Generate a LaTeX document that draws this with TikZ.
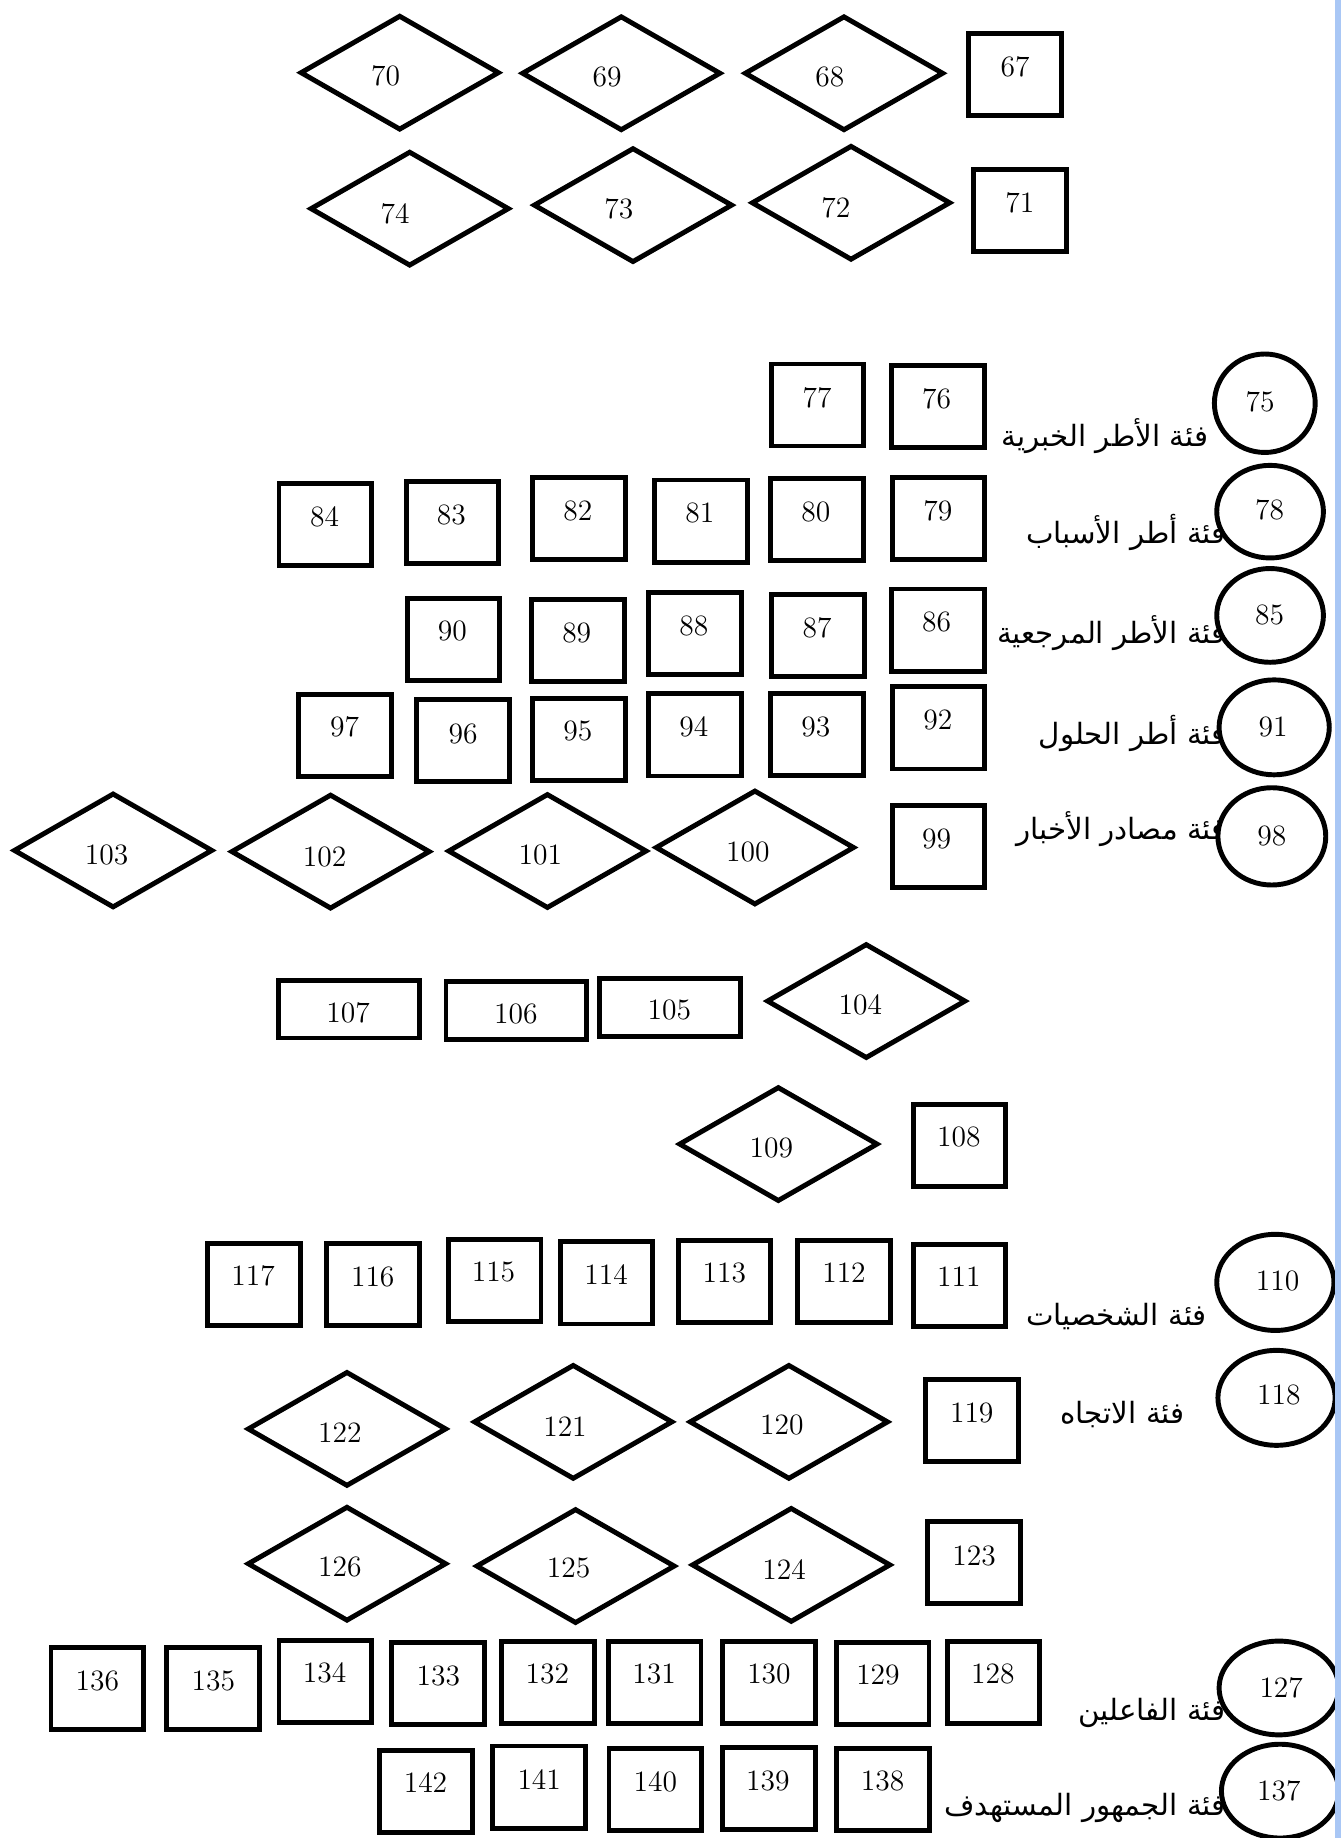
\documentclass[tikz,border=0pt]{standalone}
\usepackage{fontspec}
\newfontfamily\arabicfont[Script=Arabic]{DejaVu Sans}
\TeXXeTstate=1
\usetikzlibrary{shapes.geometric}
\definecolor{bandblue}{RGB}{169,199,245}
\tikzset{
  shp/.style={draw=black, line width=2.1pt, inner sep=0pt},
  rbox/.style={shp, rectangle, minimum width=39.5pt, minimum height=35pt},
  wbox/.style={shp, rectangle, minimum width=60pt, minimum height=24.5pt},
  dia/.style={shp, diamond, minimum width=85pt, minimum height=49pt},
  ell/.style={shp, ellipse, fill=white},
  num/.style={inner sep=0pt, font=\fontsize{12.6}{13}\selectfont},
  artxt/.style={inner sep=0pt, anchor=base east, font=\arabicfont\fontsize{12.5}{14}\selectfont},
}
\begin{document}
\begin{tikzpicture}[x=0.5pt, y=-0.5pt]
\useasboundingbox (0,0) rectangle (1144,1568);
% rectangles
\foreach \n/\cx/\cy/\lx/\ly in {
 67/866/63.5/866/57, 71/870/179.5/870/173,
 77/697.5/345.5/697/339, 76/800/346.5/799/340,
 79/800.5/442.5/800/436, 80/697/443.5/696/437, 81/598/444.5/597/438,
 82/494/442.5/493/436, 83/386/445.5/385/439, 84/277.5/447.5/277/441,
 86/800/537.5/799/531, 87/698/542.5/697/536, 88/593/540.5/592/534,
 89/493/546.5/492/540, 90/387/545.5/386/538,
 92/800.5/621/800/614, 93/697/626.5/696/620, 94/593/627/592/620,
 95/494/630.5/493/624, 96/395/631.5/395/626, 97/294.5/627.5/294/620,
 99/800.5/722.5/799/716,
 108/818.5/977/818/970,
 111/818.5/1096.5/818/1089, 112/720/1093/720/1086, 113/618/1093.5/618/1086,
 114/517.5/1094.5/517/1087, 115/422/1092.5/421/1085, 116/318/1095.5/318/1089,
 117/216.5/1095.5/216/1088,
 119/829/1211.5/829/1205, 123/831/1333/831/1327,
 128/847.5/1435.5/847/1428, 129/753/1436.5/749/1429, 130/656/1435.5/656/1428,
 131/558.5/1435.5/558/1428, 132/467.5/1435.5/467/1428, 133/373.5/1436.5/374/1430,
 134/277.5/1434.5/277/1427, 135/181.5/1440.5/182/1434, 136/83/1440.5/83/1434,
 138/753.5/1526.5/753/1519, 139/656/1525.5/655/1519, 140/559/1526.5/559/1520,
 141/460/1524.5/460/1518, 142/363.5/1528.5/363/1521}
{
  \node[rbox] (r\n) at (\cx,\cy) {};
  \node[num] (l\n) at (\lx,\ly) {\n};
}
% wide rectangles
\foreach \n/\cx/\cy/\lx/\ly in {105/571.5/859.5/571/862, 106/440.5/862/440/865, 107/297.5/861/297/864}
{
  \node[wbox] (r\n) at (\cx,\cy) {};
  \node[num] (l\n) at (\lx,\ly) {\n};
}
% diamonds
\foreach \n/\cx/\cy/\lx/\ly in {
 70/341/62/329/65, 69/530/62.5/518/66, 68/720/62.5/708/66,
 74/349.5/178/337/182, 73/540/175/528/178, 72/726/173/713/177,
 100/644/723/638/727, 101/467/726/461/729, 102/282/726.5/277/731, 103/96.5/725.5/91/729,
 104/739/854/734/857, 109/664/976/658/979,
 120/673/1213/667/1216, 121/489/1213/482/1217, 122/296/1219/290/1222,
 124/675/1335/669/1339, 125/491/1336/485/1338, 126/296/1334/290/1337}
{
  \node[dia] (d\n) at (\cx,\cy) {};
  \node[num] (l\n) at (\lx,\ly) {\n};
}
% Arabic category labels
\node[artxt] (t75) at (1031,381) {\beginR فئة الأطر الخبرية\endR};
\node[artxt] (t78) at (1046,464) {\beginR فئة أطر الأسباب\endR};
\node[artxt] (t85) at (1046,549) {\beginR فئة الأطر المرجعية\endR};
\node[artxt] (t91) at (1046,635) {\beginR فئة أطر الحلول\endR};
\node[artxt] (t98) at (1046,716) {\beginR فئة مصادر الأخبار\endR};
\node[artxt] (t110) at (1030,1131) {\beginR فئة الشخصيات\endR};
\node[artxt] (t118) at (1011,1214) {\beginR فئة الاتجاه\endR};
\node[artxt] (t127) at (1046,1468) {\beginR فئة الفاعلين\endR};
\node[artxt] (t137) at (1046,1549) {\beginR فئة الجمهور المستهدف\endR};
% ellipses
\foreach \n/\cx/\cy/\w/\h/\lx/\ly in {
 75/1079/344/43/42/1075/343, 78/1083.5/436.5/45.5/39.5/1083/435,
 85/1083.5/525/45.5/40/1083/525, 91/1087/620.5/47/40.5/1086/620,
 98/1085/713.5/46/41.5/1085/713, 110/1088/1094/50/41/1090/1093,
 118/1089/1192.5/50/40.5/1091/1190, 127/1091/1440/51/40/1093/1440,
 137/1092/1528/50/40/1091/1528}
{
  \node[ell, minimum width=\w pt, minimum height=\h pt] (e\n) at (\cx,\cy) {};
  \node[num] (l\n) at (\lx,\ly) {\n};
}
% right-hand blue band
\fill[bandblue] (1139,0) rectangle (1144,1568);
\end{tikzpicture}
\end{document}
